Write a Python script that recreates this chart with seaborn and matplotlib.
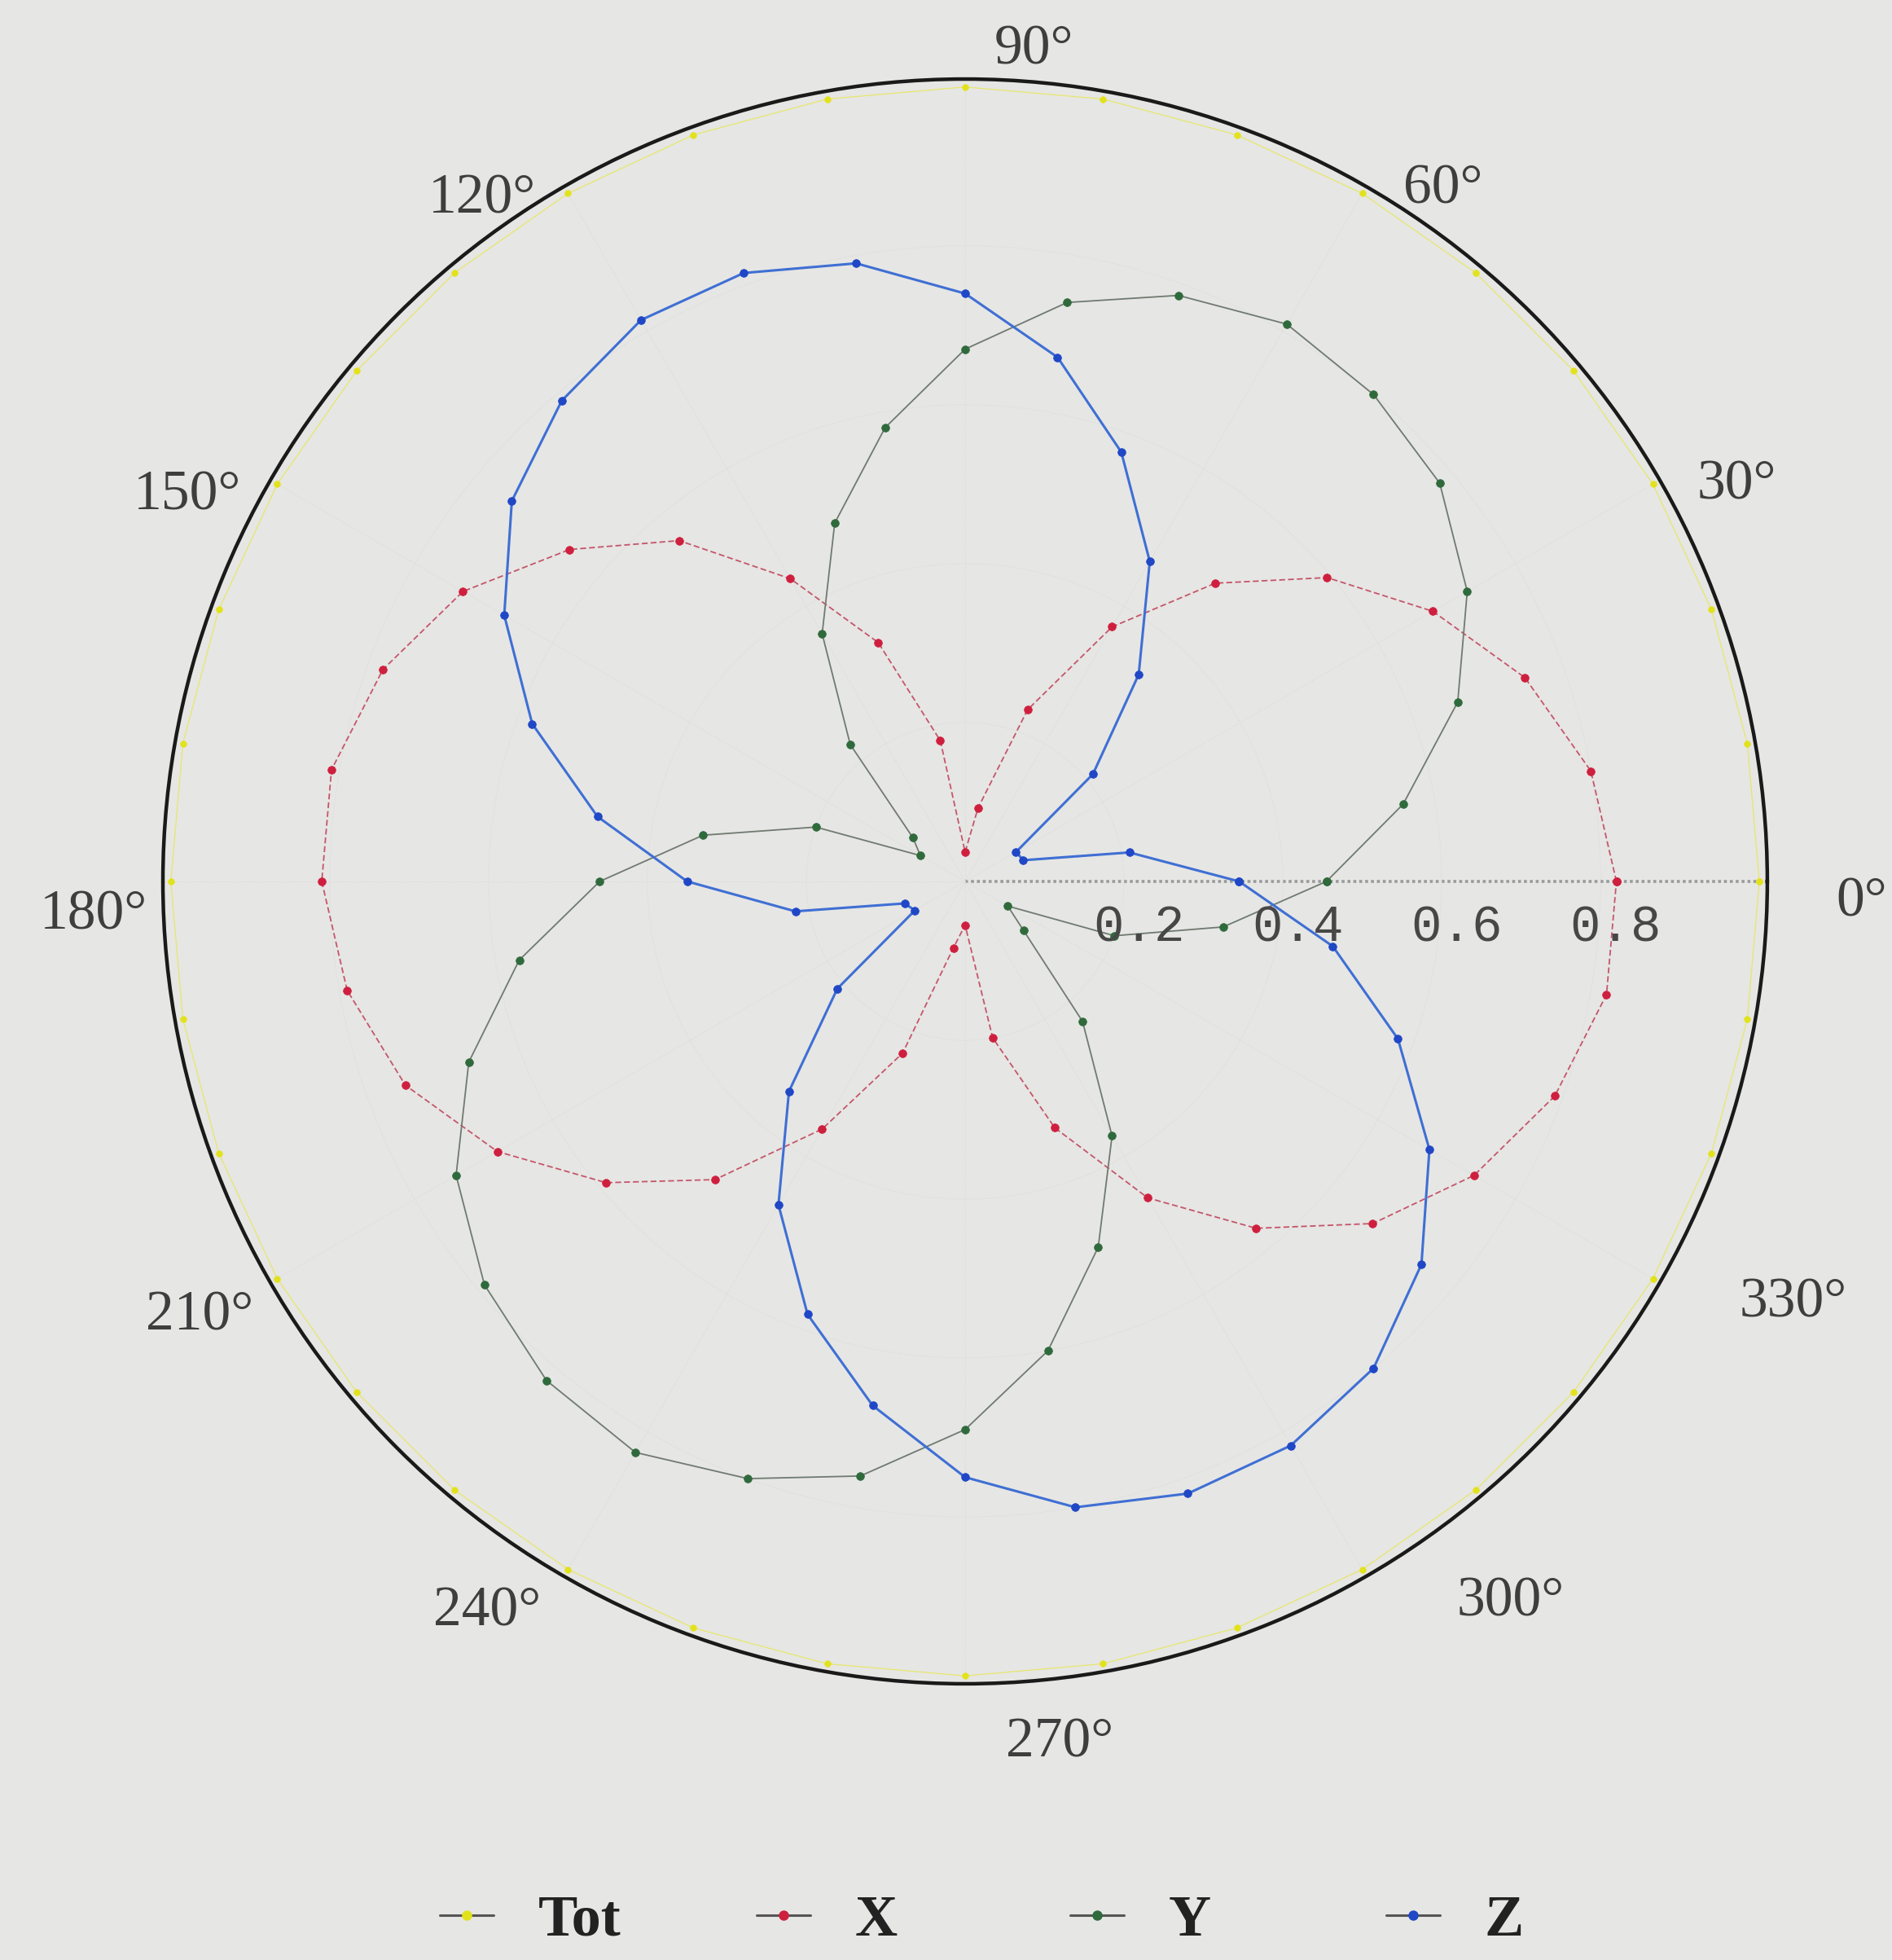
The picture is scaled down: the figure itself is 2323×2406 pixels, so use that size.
import numpy as np
import matplotlib
matplotlib.use("Agg")
import matplotlib.pyplot as plt
import seaborn as sns
from matplotlib import transforms
from matplotlib.lines import Line2D

# ---- data: normalised response sampled every 10 degrees ----
angles_deg = [0, 10, 20, 30, 40, 50, 60, 70, 80, 90, 100, 110,
              120, 130, 140, 150, 160, 170, 180, 190, 200, 210, 220, 230,
              240, 250, 260, 270, 280, 290, 300, 310, 320, 330, 340, 350]

tot = [1.00, 1.00, 1.00, 1.00, 1.00, 1.00, 1.00, 1.00, 1.00, 1.00, 1.00, 1.00,
       1.00, 1.00, 1.00, 1.00, 1.00, 1.00, 1.00, 1.00, 1.00, 1.00, 1.00, 1.00,
       1.00, 1.00, 1.00, 1.00, 1.00, 1.00, 1.00, 1.00, 1.00, 1.00, 1.00, 1.00]

x_vals = [0.82, 0.80, 0.75, 0.68, 0.595, 0.49, 0.37, 0.23, 0.094, 0.037, 0.18, 0.32,
          0.44, 0.56, 0.65, 0.73, 0.78, 0.81, 0.81, 0.79, 0.75, 0.68, 0.59, 0.49,
          0.36, 0.23, 0.085, 0.055, 0.20, 0.33, 0.46, 0.57, 0.67, 0.74, 0.79, 0.82]

y_vals = [0.455, 0.56, 0.66, 0.73, 0.78, 0.80, 0.81, 0.785, 0.74, 0.67, 0.58, 0.48,
          0.36, 0.225, 0.086, 0.065, 0.20, 0.335, 0.46, 0.57, 0.665, 0.74, 0.79, 0.82,
          0.83, 0.80, 0.76, 0.69, 0.60, 0.49, 0.37, 0.23, 0.096, 0.062, 0.20, 0.33]

z_vals = [0.345, 0.21, 0.078, 0.074, 0.21, 0.34, 0.465, 0.575, 0.67, 0.74, 0.79, 0.815,
          0.816, 0.79, 0.745, 0.67, 0.58, 0.47, 0.35, 0.217, 0.081, 0.073, 0.21, 0.345,
          0.47, 0.58, 0.67, 0.75, 0.80, 0.82, 0.82, 0.80, 0.75, 0.675, 0.58, 0.47]

series_names = ["Tot", "X", "Y", "Z"]
radial_ticks = [0.2, 0.4, 0.6, 0.8]
angle_ticks = [0, 30, 60, 90, 120, 150, 180, 210, 240, 270, 300, 330]

# ---- style ----
sns.set_theme(style="white")
plt.rcParams["font.family"] = ["Liberation Serif", "DejaVu Serif"]

BG = "#e6e6e4"
line_colors = {"Tot": "#e6e66e", "X": "#c4566a", "Y": "#6f7a70", "Z": "#3f6fd4"}
marker_colors = {"Tot": "#e2e21c", "X": "#cf1f3e", "Y": "#2f6a3c", "Z": "#1f47c6"}
line_widths = {"Tot": 0.9, "X": 1.3, "Y": 1.3, "Z": 2.2}
line_styles = {"Tot": "-", "X": (0, (4, 2)), "Y": "-", "Z": "-"}
marker_sizes = {"Tot": 5.5, "X": 7, "Y": 7, "Z": 7}

fig = plt.figure(figsize=(23.23, 24.06), dpi=100)
fig.patch.set_facecolor(BG)
ax = fig.add_axes([0.0861, 0.1409, 0.8480, 0.8188], projection="polar")
ax.set_facecolor(BG)

theta = np.deg2rad(np.append(angles_deg, 360))
data = {"Tot": tot, "X": x_vals, "Y": y_vals, "Z": z_vals}

for name in series_names:
    r = np.append(data[name], data[name][0])
    sns.lineplot(x=theta, y=r, ax=ax, sort=False, estimator=None,
                 color=line_colors[name], linewidth=line_widths[name],
                 marker="o", markersize=marker_sizes[name],
                 markerfacecolor=marker_colors[name],
                 markeredgecolor=marker_colors[name], markeredgewidth=0.5,
                 zorder=3)
    ax.lines[-1].set_linestyle(line_styles[name])

ax.set_xlabel("")
ax.set_ylabel("")
ax.set_theta_zero_location("E")
ax.set_theta_direction(1)
ax.set_ylim(0, 1.01)
ax.set_rticks(radial_ticks)
ax.set_yticklabels([])
ax.set_xticks(np.deg2rad(angle_ticks))
ax.set_xticklabels([])
ax.set_rlabel_position(0)

ax.grid(True, color="#dadada", linewidth=0.8, linestyle=":")
ax.xaxis.get_gridlines()[0].set(color="#9a9a9a", linewidth=2.6,
                                linestyle=(0, (1, 1)))
ax.spines["polar"].set_color("#1a1a1a")
ax.spines["polar"].set_linewidth(3.2)

# radial value labels just under the 0-degree line
rad_tf = transforms.offset_copy(ax.transData, fig=fig, x=18, y=-57, units="dots")
for rv in radial_ticks:
    ax.text(0, rv, f"{rv:.1f}", transform=rad_tf, ha="center", va="center",
            fontsize=45, family=["Liberation Mono", "DejaVu Sans Mono"],
            color="#474747")

# angle labels around the rim (axes-fraction positions)
angle_label_pos = [(1.059, 0.487), (0.981, 0.747), (0.798, 0.931), (0.543, 1.018),
                   (0.199, 0.925), (0.015, 0.740), (-0.043, 0.479), (0.023, 0.229),
                   (0.202, 0.045), (0.559, -0.037), (0.840, 0.051), (1.016, 0.237)]
for deg, (px, py) in zip(angle_ticks, angle_label_pos):
    ax.text(px, py, f"{deg}°", transform=ax.transAxes, ha="center", va="center",
            fontsize=50, color="#3e3e3e")

# legend row along the bottom
legend_x = [540 / 2323, 929 / 2323, 1314 / 2323, 1702 / 2323]
legend_y = 1 - 2358 / 2406
for name, lx in zip(series_names, legend_x):
    h = Line2D([], [], color="#555555", linewidth=2.2, marker="o", markersize=8,
               markerfacecolor=marker_colors[name],
               markeredgecolor=marker_colors[name])
    fig.legend(handles=[h], labels=[name], loc="center left",
               bbox_to_anchor=(lx, legend_y), frameon=False,
               prop={"size": 52, "weight": "bold"},
               handlelength=0.92, handletextpad=0.75, borderpad=0,
               borderaxespad=0, labelcolor="#222222")

fig.savefig("out.png", dpi=100, facecolor=BG)
